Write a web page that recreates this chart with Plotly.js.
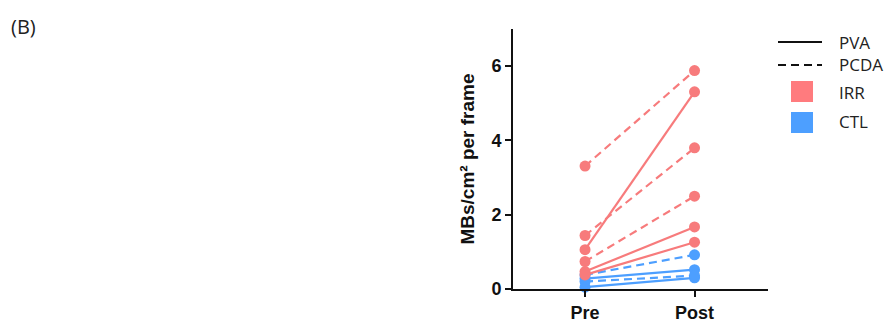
<!DOCTYPE html>
<html>
<head>
<meta charset="utf-8">
<script src="https://cdn.plot.ly/plotly-3.0.1.min.js"></script>
<style>html,body{margin:0;padding:0;background:#fff;}#chart{width:888px;height:327px;}</style>
</head>
<body>
<div id="chart"></div>
<script>
// ---- data ----
var timepoints = ["Pre", "Post"];
// IRR group
var irrPvaPre   = [1.06, 0.47, 0.38];
var irrPvaPost  = [5.31, 1.67, 1.26];
var irrPcdaPre  = [3.31, 1.44, 0.74];
var irrPcdaPost = [5.88, 3.80, 2.50];
// CTL group
var ctlPvaPre   = [0.28, 0.05];
var ctlPvaPost  = [0.52, 0.30];
var ctlPcdaPre  = [0.38, 0.20];
var ctlPcdaPost = [0.92, 0.36];
var yTicks = [0, 2, 4, 6];
var legendLabels = ["PVA", "PCDA", "IRR", "CTL"];
var panelLabel = "(B)";
var yTitle = "MBs/cm\u00b2 per frame";

// ---- styles ----
var RED = "#F77B7C", BLUE = "#4D9FFF";
var DASH = "8px,5px";
var traces = [];
function addPairs(pre, post, color, dash) {
  for (var i = 0; i < pre.length; i++) {
    traces.push({
      x: timepoints, y: [pre[i], post[i]], type: "scatter", mode: "lines+markers",
      line: {color: color, width: 2.2, dash: dash},
      marker: {color: color, size: 11},
      showlegend: false, hoverinfo: "skip", cliponaxis: false
    });
  }
}
addPairs(ctlPvaPre, ctlPvaPost, BLUE, "solid");
addPairs(ctlPcdaPre, ctlPcdaPost, BLUE, DASH);
addPairs(irrPcdaPre, irrPcdaPost, RED, DASH);
addPairs(irrPvaPre, irrPvaPost, RED, "solid");

var W = 255, H = 260;
function px(x) { return (x - 513) / W; }
function py(y) { return (289 - y) / H; }

var shapes = [
  {type: "line", xref: "paper", yref: "paper", x0: px(778), x1: px(822), y0: py(42), y1: py(42), line: {color: "#111", width: 2}},
  {type: "line", xref: "paper", yref: "paper", x0: px(778), x1: px(822), y0: py(65), y1: py(65), line: {color: "#111", width: 2, dash: DASH}},
  {type: "rect", xref: "paper", yref: "paper", x0: px(791), x1: px(813), y0: py(81), y1: py(102), fillcolor: "#FF7B7E", line: {width: 0}},
  {type: "rect", xref: "paper", yref: "paper", x0: px(791), x1: px(813), y0: py(112), y1: py(133), fillcolor: "#4D9FFF", line: {width: 0}}
];
var legY = [42, 65, 92, 122];
var annotations = [];
for (var k = 0; k < legendLabels.length; k++) {
  annotations.push({xref: "paper", yref: "paper", x: px(837), y: py(legY[k]), text: legendLabels[k],
    showarrow: false, xanchor: "left", yanchor: "middle", font: {family: "Open Sans, Noto Sans, sans-serif", size: 17, color: "#222"}});
}
annotations.push({xref: "paper", yref: "paper", x: px(9), y: py(26), text: panelLabel, showarrow: false,
  xanchor: "left", yanchor: "middle", font: {family: "Open Sans, Noto Sans, sans-serif", size: 20, color: "#222"}});

var layout = {
  width: 888, height: 327,
  margin: {l: 513, r: 120, t: 29, b: 38, pad: 0},
  paper_bgcolor: "#fff", plot_bgcolor: "#fff",
  showlegend: false,
  xaxis: {
    type: "category", range: [-0.658, 1.671], showgrid: false, zeroline: false,
    showline: true, linecolor: "#111", linewidth: 2,
    ticks: "outside", ticklen: 6, tickwidth: 2, tickcolor: "#111",
    tickfont: {family: "Liberation Sans, Arial, sans-serif", size: 18, color: "#111", weight: "bold"},
    fixedrange: true
  },
  yaxis: {
    range: [0, 7], tickvals: yTicks, ticktext: yTicks.map(String), showgrid: false, zeroline: false,
    showline: true, linecolor: "#111", linewidth: 2,
    ticks: "outside", ticklen: 6, tickwidth: 2, tickcolor: "#111",
    tickfont: {family: "Liberation Sans, Arial, sans-serif", size: 18, color: "#111", weight: "bold"},
    title: {text: yTitle, standoff: 12, font: {family: "Liberation Sans, Arial, sans-serif", size: 19, color: "#111", weight: "bold"}},
    fixedrange: true
  },
  shapes: shapes,
  annotations: annotations
};
Plotly.newPlot("chart", traces, layout, {staticPlot: true, displayModeBar: false});
</script>
</body>
</html>
